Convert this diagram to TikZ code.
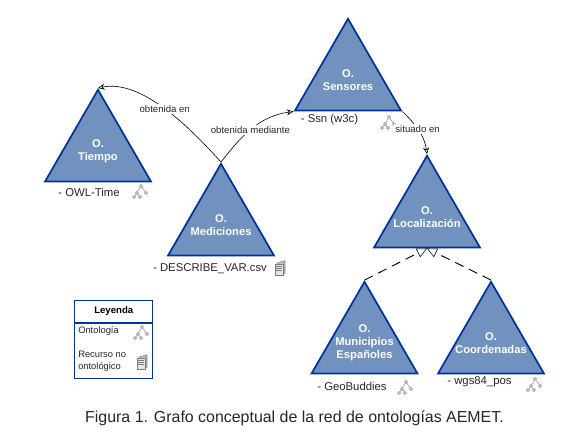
\documentclass[tikz,border=0pt]{standalone}
\usepackage{fontspec}
\setmainfont{Liberation Sans}
\usetikzlibrary{shapes.geometric, arrows.meta}
\definecolor{TriangleFill}{RGB}{113,146,190}
\definecolor{TriangleLine}{RGB}{0,51,153}
\definecolor{IconColor}{RGB}{125,125,125}
\tikzstyle{arrow} = [black, line width=0.45pt, -{Stealth[open, length=5pt, width=4.5pt]}]
\tikzstyle{dasharrow} = [black, line width=0.7pt, dash pattern=on 7pt off 4.5pt, -{Triangle[open, fill=white, length=7.5pt, width=7pt, line width=0.4pt]}]
\tikzstyle{triangle} = [regular polygon, regular polygon sides=3, minimum size=91.8pt, inner sep=0pt, draw=TriangleLine, line width=1.3pt, fill=TriangleFill]
\tikzstyle{triangletext} = [text=white, align=center, inner sep=0pt, font=\fontsize{8.4}{9.8}\selectfont\bfseries]
\tikzstyle{resource} = [text=black!85, inner sep=0pt, font=\fontsize{8.5}{10}\selectfont]
\tikzstyle{edgelabel} = [fill=white, text=black!85, inner sep=1pt, font=\fontsize{7.2}{8.5}\selectfont]
\tikzstyle{legendbox} = [rectangle, draw=TriangleLine, line width=0.6pt, minimum width=58.5pt, inner sep=0pt]
\tikzstyle{legendtext} = [text=black!85, align=left, inner sep=0pt, font=\fontsize{7}{9}\selectfont]
\tikzset{
  ontologia/.pic={
    \draw[IconColor, line width=0.3pt] (0,-6) -- (-4,1) -- (-7,5) (-4,1) -- (-1,5) (0,-6) -- (5,1);
    \foreach \px/\py in {0/-6, -4/1, 5/1, -7/5, -1/5}
      \draw[IconColor, fill=white, line width=0.5pt] (\px,\py) circle (1.5);
  },
  documento/.pic={
    \draw[IconColor, fill=black!25, line width=0.4pt] (-3,-5) -- (4,-7) -- (5,-7) -- (5,5) -- (3,7) -- (-3,7) -- cycle;
    \draw[IconColor, fill=black!10, line width=0.4pt] (-5,-4) -- (3,-4) -- (3,7) -- (-5,7) -- cycle;
    \foreach \py in {-2,0,2}
      \draw[IconColor, line width=0.4pt] (-4,\py) -- (2,\py);
  }
}

\begin{document}
\begin{tikzpicture}[x=0.75pt, y=-0.75pt]
  \useasboundingbox (0,0) rectangle (584,442);

  % Ontologies
  \node[triangle, label={[triangletext]center:{O.\\Tiempo}}] (tiempo) at (98,151) {};
  \node[triangle, label={[triangletext]center:{O.\\Mediciones}}] (mediciones) at (221,225) {};
  \node[triangle, label={[triangletext]center:{O.\\Sensores}}] (sensores) at (348,80) {};
  \node[triangle, label={[triangletext]center:{O.\\Localización}}] (localizacion) at (427,217) {};
  \node[triangle, label={[triangletext]center:{O.\\Municipios\\Españoles}}] (municipios) at (364.5,343) {};
  \node[triangle, label={[triangletext]center:{O.\\Coordenadas}}] (coordenadas) at (491,343) {};

  % Resources
  \node[resource] (owltime) at (89,192) {- OWL-Time};
  \node[resource] (describe) at (210,269) {- DESCRIBE\_VAR.csv};
  \node[resource] (ssn) at (329.5,120) {- Ssn (w3c)};
  \node[resource] (geobuddies) at (352,386) {- GeoBuddies};
  \node[resource] (wgs) at (479.5,382) {- wgs84\_pos};

  % Icons
  \pic at (141,192) {ontologia};
  \pic at (389,123) {ontologia};
  \pic at (406,388) {ontologia};
  \pic at (535,385) {ontologia};
  \pic at (280,268) {documento};

  % Connections
  \draw[arrow] (mediciones.corner 1) to[out=132, in=12, looseness=0.8]
    node[edgelabel, pos=0.5] (obtenidaen) {obtenida en} (tiempo.corner 1);
  \draw[arrow] (mediciones.corner 1) to[out=52, in=188]
    node[edgelabel, pos=0.47] (obtenidamediante) {obtenida mediante} (sensores.corner 2);
  \draw[arrow] (sensores.corner 3) to[out=-45, in=98]
    node[edgelabel, pos=0.45] (situadoen) {situado en} (localizacion.corner 1);
  \draw[dasharrow] (municipios.corner 1) -- (localizacion.side 2);
  \draw[dasharrow] (coordenadas.corner 1) -- (localizacion.side 2);

  % Legend
  \node[legendbox, minimum height=17pt, font=\fontsize{7.2}{9}\selectfont\bfseries] (leyenda) at (113.75,311.5) {Leyenda};
  \node[legendbox, minimum height=41pt, anchor=north] (leyendabody) at (leyenda.south) {};
  \node[legendtext, anchor=west] (ontologia) at (78,331) {Ontología};
  \node[legendtext, anchor=west] (recurso) at (78,361) {Recurso no\\ontológico};
  \pic at (142,333) {ontologia};
  \pic at (142,362) {documento};

  % Caption
  \node[inner sep=0pt, text=black!85, font=\fontsize{11.95}{14}\selectfont] (caption) at (294.5,418) {Figura 1. Grafo conceptual de la red de ontologías AEMET.};
\end{tikzpicture}
\end{document}
